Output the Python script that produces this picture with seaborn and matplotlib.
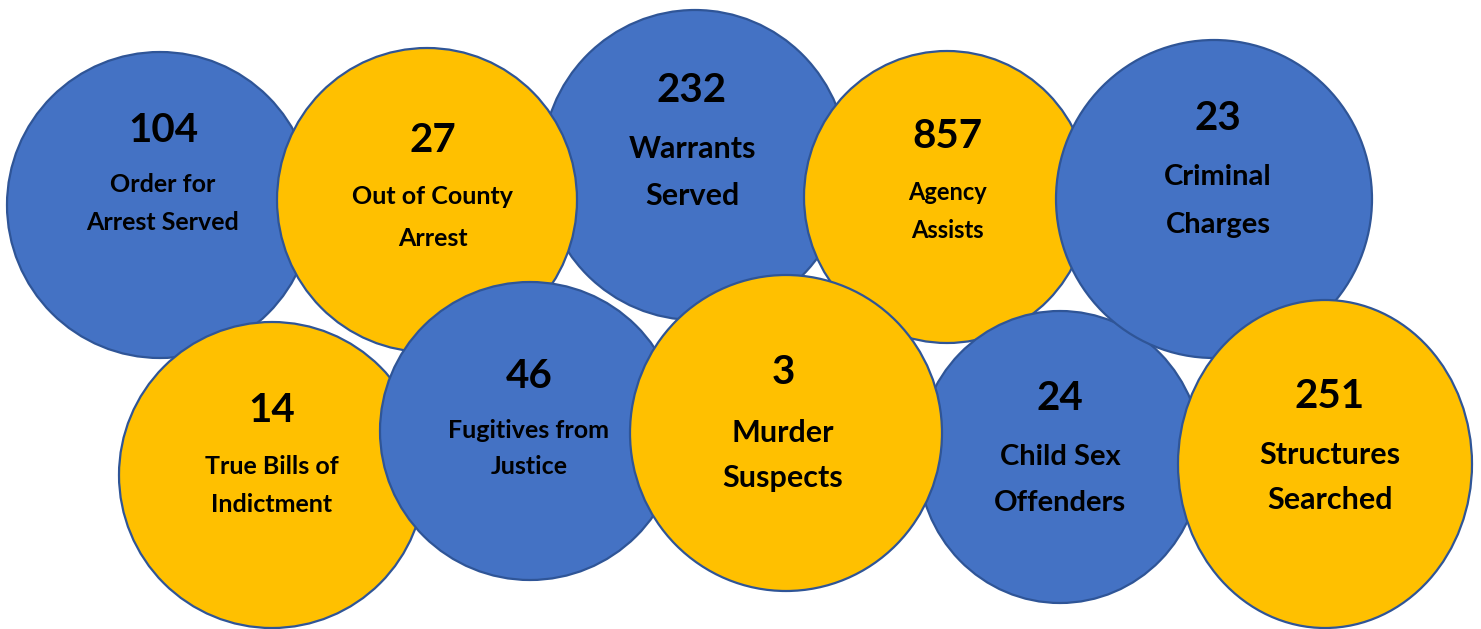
import matplotlib
matplotlib.use("Agg")
import matplotlib.pyplot as plt
from matplotlib.patches import Ellipse
import seaborn as sns

# ---- data ----
values = ["104", "232", "27", "857", "24", "23", "14", "46", "3", "251"]
label_line1 = ["Order for", "Warrants", "Out of County", "Agency", "Child Sex",
               "Criminal", "True Bills of", "Fugitives from", "Murder", "Structures"]
label_line2 = ["Arrest Served", "Served", "Arrest", "Assists", "Offenders",
               "Charges", "Indictment", "Justice", "Suspects", "Searched"]
kinds = ["blue", "blue", "gold", "gold", "blue", "blue", "gold", "blue", "gold", "gold"]

# ---- layout (pixel coordinates, drawing order) ----
cx = [160, 695, 427, 947, 1060, 1214, 272, 530, 786, 1325]
cy = [205, 165, 200, 197, 457, 199, 475, 431, 433, 464]
rx = [153, 153, 150, 143, 142, 158, 153, 150, 156, 147]
ry = [153, 155, 152, 146, 146, 159, 153, 149, 158, 164]
num_y = [130, 91, 141, 137, 398, 119, 411, 376, 373, 397]
l1_y = [184, 149, 197, 192, 457, 177, 467, 431, 433, 455]
l2_y = [222, 196, 238, 230, 503, 225, 505, 466, 478, 500]
text_x = [163, 692, 433, 947, 1060, 1218, 272, 529, 783, 1330]
label_size = [18, 22, 18, 17, 21, 21, 18, 18, 22, 22]

sns.set_theme(style="white")
pal = dict(zip(["blue", "gold"], sns.color_palette(["#4472C4", "#FFC000"])))
FONT = ["Lato", "DejaVu Sans"]

fig = plt.figure(figsize=(14.81, 6.29), dpi=100)
ax = fig.add_axes([0, 0, 1, 1])
ax.set_xlim(0, 1481)
ax.set_ylim(629, 0)
ax.axis("off")

for i in range(len(values)):
    ax.add_patch(Ellipse((cx[i], cy[i]), 2 * rx[i], 2 * ry[i],
                         facecolor=pal[kinds[i]], edgecolor="#2F5597",
                         linewidth=1.6, zorder=i + 1))
    z = i + 1.5
    ax.text(text_x[i], num_y[i], values[i], ha="center", va="center",
            fontsize=29, fontweight="bold", family=FONT, color="black", zorder=z)
    ax.text(text_x[i], l1_y[i], label_line1[i], ha="center", va="center",
            fontsize=label_size[i], fontweight="bold", family=FONT, color="black", zorder=z)
    ax.text(text_x[i], l2_y[i], label_line2[i], ha="center", va="center",
            fontsize=label_size[i], fontweight="bold", family=FONT, color="black", zorder=z)

fig.savefig("out.png", dpi=100, facecolor="white")
